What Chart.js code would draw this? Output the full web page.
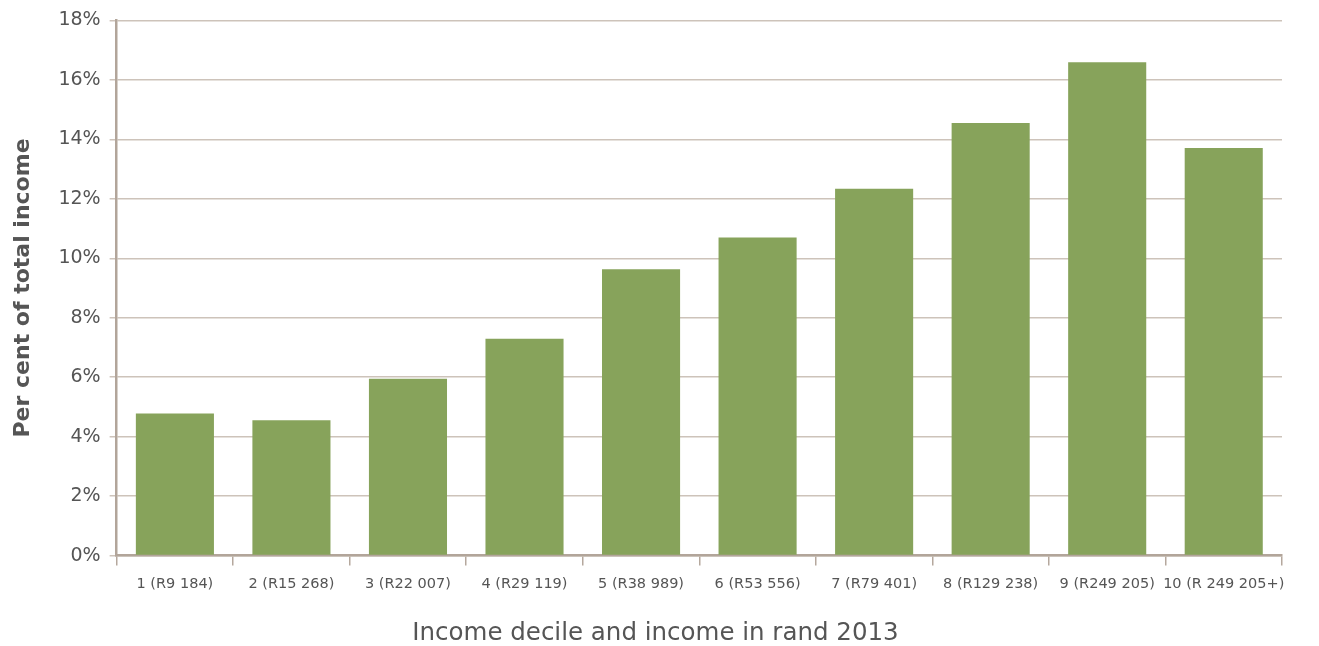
<!DOCTYPE html>
<html><head><meta charset="utf-8">
<script src="https://cdn.jsdelivr.net/npm/chart.js@4"></script>
<style>html,body{margin:0;padding:0;background:#fff}#wrap{width:1319px;height:646px}</style>
</head><body><div id="wrap"><canvas id="c"></canvas></div>
<script>
const categories = ["1 (R9 184)","2 (R15 268)","3 (R22 007)","4 (R29 119)","5 (R38 989)","6 (R53 556)","7 (R79 401)","8 (R129 238)","9 (R249 205)","10 (R 249 205+)"];
const shareOfIncome = [4.78, 4.55, 5.95, 7.29, 9.63, 10.70, 12.34, 14.55, 16.59, 13.71];
const yTicks = [0, 2, 4, 6, 8, 10, 12, 14, 16, 18];
const yTitle = "Per cent of total income";
const xTitle = "Income decile and income in rand 2013";

const FONT = "'DejaVu Sans', 'Open Sans', sans-serif";

// x-axis title centred on the whole figure (as in the original), placed below the tick labels
const xTitlePlugin = {
  id: 'xTitle',
  afterDraw(chart) {
    const ctx = chart.ctx;
    const xs = chart.scales.x;
    ctx.save();
    ctx.font = "24.5px " + FONT;
    ctx.fillStyle = '#555';
    ctx.textAlign = 'center';
    ctx.textBaseline = 'middle';
    ctx.fillText(xTitle, chart.width / 2 - 4, xs.bottom + 31);
    ctx.restore();
  }
};

new Chart(document.getElementById('c'), {
  type: 'bar',
  data: { labels: categories, datasets: [{ data: shareOfIncome, backgroundColor: '#87a35b', barPercentage: 0.67, categoryPercentage: 1 }] },
  options: {
    responsive: true, maintainAspectRatio: false, animation: false,
    layout: { padding: { top: 2, right: 37, bottom: 43, left: 10 } },
    plugins: { legend: { display: false }, tooltip: { enabled: false } },
    scales: {
      x: {
        grid: { display: true, drawOnChartArea: false, offset: true, tickLength: 10, color: '#b5a89d', lineWidth: 1.5 },
        border: { display: true, color: '#b2a59a', width: 2.5 },
        ticks: { color: '#555', font: { family: FONT, size: 14.5 }, padding: 10, maxRotation: 0, autoSkip: false },
        title: { display: false }
      },
      y: {
        min: 0, max: 18,
        afterBuildTicks: (ax) => { ax.ticks = yTicks.map(v => ({ value: v })); },
        grid: { color: '#cdc3ba', lineWidth: 1.5, tickLength: 7 },
        border: { display: true, color: '#b2a59a', width: 2.5 },
        ticks: { color: '#555', font: { family: FONT, size: 19 }, padding: 9, callback: v => v + '%' },
        title: { display: true, text: yTitle, color: '#555', font: { family: FONT, size: 22, weight: 'bold' }, padding: { top: 0, bottom: 13 } }
      }
    }
  },
  plugins: [xTitlePlugin]
});
</script></body></html>
